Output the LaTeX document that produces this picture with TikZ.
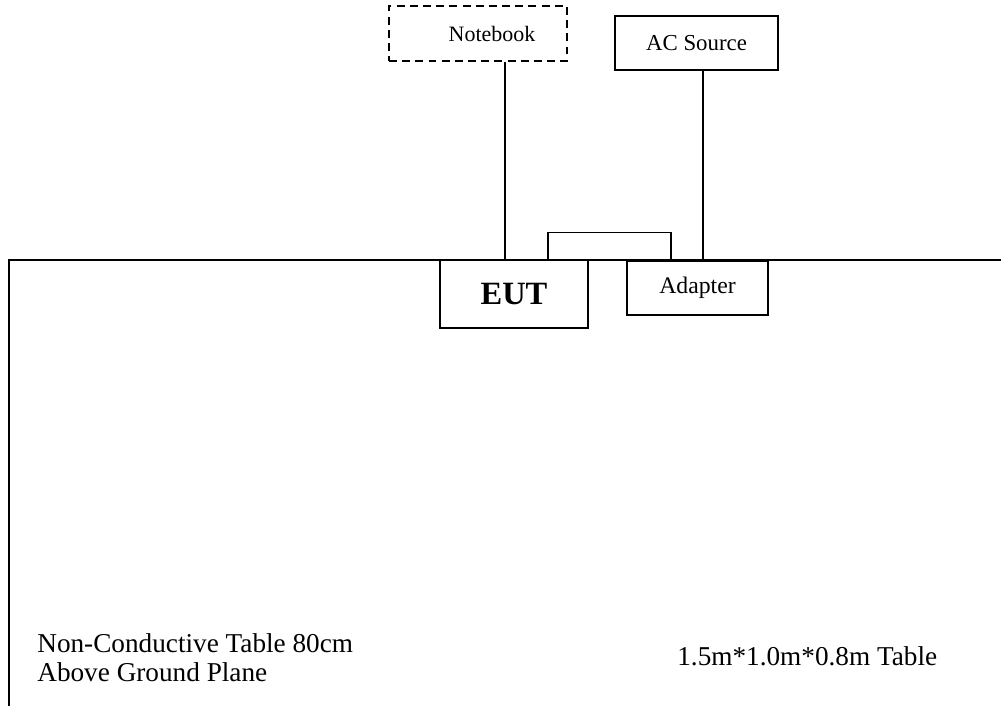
\documentclass[tikz,border=0pt]{standalone}
\usepackage{fontspec}
\setmainfont{Liberation Serif}

\tikzset{
  box/.style={draw,line width=0.8pt,fill=white,inner sep=0pt},
  dashbox/.style={box,dash pattern=on 4.5pt off 3pt},
  wire/.style={line width=0.8pt},
  tableline/.style={line width=1.1pt},
  note/.style={inner sep=0pt,anchor=base west,align=left,font=\fontsize{15.5}{16}\selectfont}
}

\begin{document}
\begin{tikzpicture}[x=0.02cm,y=-0.02cm]
\useasboundingbox (0,0) rectangle (1001,706);
% table
\draw[tableline] (9,706) -- (9,260) -- (1001,260);
% boxes
\node[dashbox,minimum width=3.56cm,minimum height=1.1cm,font=\fontsize{12.5}{14}\selectfont] (nb) at (478,33.5) {\hspace*{0.56cm}Notebook};
\node[box,minimum width=3.26cm,minimum height=1.08cm,font=\fontsize{13}{15}\selectfont] (ac) at (696.5,43) {AC Source};
\node[box,minimum width=2.96cm,minimum height=1.36cm,font=\fontsize{18.5}{20}\selectfont\bfseries] (eut) at (514,294) {EUT};
\node[box,minimum width=2.82cm,minimum height=1.08cm,font=\fontsize{13.5}{15}\selectfont] (adp) at (697.5,288) {Adapter};
% cables
\draw[wire] ([xshift=0.54cm]nb.south) -- ([xshift=0.54cm]nb.south |- eut.north);
\draw[wire] ([xshift=0.13cm]ac.south) -- ([xshift=0.13cm]ac.south |- adp.north);
\draw[wire] ([xshift=0.68cm]eut.north) -- ++(0,-27) -| ([xshift=-0.53cm]adp.north);
% labels
\node[note] (tabnote) at (37,681) {Non-Conductive Table 80cm\\Above Ground Plane};
\node[note] (tabsize) at (677,665) {1.5m*1.0m*0.8m Table};
\end{tikzpicture}
\end{document}
